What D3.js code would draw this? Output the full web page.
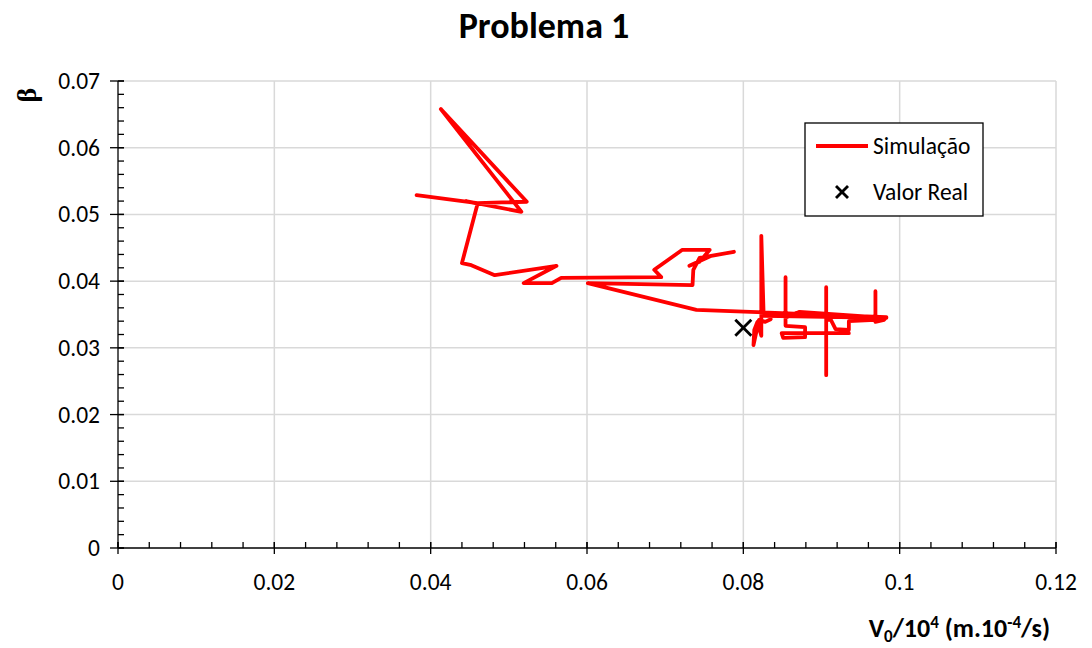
<!DOCTYPE html>
<html>
<head>
<meta charset="utf-8">
<script src="https://cdn.jsdelivr.net/npm/d3@7/dist/d3.min.js"></script>
<style>
  body { margin: 0; background: #fff; }
  svg { display: block; font-family: Carlito, Calibri, "Open Sans", "Liberation Sans", sans-serif; }
</style>
</head>
<body>
<svg id="chart" width="1092" height="648"></svg>
<script>
// Simulated trajectory of (V0/10^4, beta)
const simV0 = [
  0.0382, 0.0460, 0.0523, 0.0413, 0.0516, 0.0445, 0.0460, 0.0440, 0.0452, 0.0482,
  0.0561, 0.0519, 0.0555, 0.0567, 0.0695, 0.0686, 0.0722, 0.0757, 0.0744, 0.0731,
  0.0759, 0.0788, 0.0744, 0.0736, 0.0735, 0.0601, 0.0740, 0.0983, 0.0980, 0.0969,
  0.0969, 0.0969, 0.0935, 0.0935, 0.0918, 0.0912, 0.0906, 0.0906, 0.0906, 0.0906,
  0.0935, 0.0849, 0.0851, 0.0879, 0.0879, 0.0854, 0.0854, 0.0854, 0.0872, 0.0983,
  0.0826, 0.0823, 0.0823, 0.0818, 0.0814, 0.0813, 0.0820, 0.0828, 0.0835
];
const simBeta = [
  0.0529, 0.0517, 0.0519, 0.0658, 0.0504, 0.0520, 0.0516, 0.0427, 0.0424, 0.0409,
  0.0423, 0.0397, 0.0397, 0.0405, 0.0406, 0.0417, 0.0447, 0.0447, 0.0429, 0.0423,
  0.0438, 0.0444, 0.0435, 0.0417, 0.0394, 0.0397, 0.0357, 0.0346, 0.0342, 0.0339,
  0.0385, 0.0342, 0.0340, 0.0327, 0.0328, 0.0342, 0.0342, 0.0391, 0.0259, 0.0322,
  0.0322, 0.0322, 0.0315, 0.0316, 0.0331, 0.0333, 0.0406, 0.0345, 0.0354, 0.0345,
  0.0348, 0.0468, 0.0318, 0.0339, 0.0327, 0.0304, 0.0342, 0.0339, 0.0343
];
// Real value
const realV0 = [0.08];
const realBeta = [0.033];

const xTicks = [0, 0.02, 0.04, 0.06, 0.08, 0.1, 0.12];
const yTicks = [0, 0.01, 0.02, 0.03, 0.04, 0.05, 0.06, 0.07];
const seriesNames = ["Simulação", "Valor Real"];

const svg = d3.select("#chart");
const plotL = 118, plotR = 1056, plotT = 81, plotB = 548;

const x = d3.scaleLinear().domain([0, 0.12]).range([plotL, plotR]);
const y = d3.scaleLinear().domain([0, 0.07]).range([plotB, plotT]);

// grid
const grid = svg.append("g");
grid.selectAll(".vg").data(xTicks.slice(1)).enter().append("line")
  .attr("x1", d => x(d)).attr("x2", d => x(d))
  .attr("y1", plotT).attr("y2", plotB)
  .attr("stroke", "#d9d9d9").attr("stroke-width", 1.5);
grid.selectAll(".hg").data(yTicks.slice(1)).enter().append("line")
  .attr("x1", plotL).attr("x2", plotR)
  .attr("y1", d => y(d)).attr("y2", d => y(d))
  .attr("stroke", "#d9d9d9").attr("stroke-width", 1.5);

// minor ticks (inside)
const xMinor = d3.range(0, 0.12 + 1e-9, 0.004);
const yMinor = d3.range(0, 0.07 + 1e-9, 0.002);
const ax = svg.append("g").attr("stroke", "#000").attr("stroke-width", 1.3);
ax.selectAll(".xm").data(xMinor).enter().append("line")
  .attr("x1", d => x(d)).attr("x2", d => x(d))
  .attr("y1", plotB).attr("y2", plotB - 6);
ax.selectAll(".ym").data(yMinor).enter().append("line")
  .attr("x1", plotL).attr("x2", plotL + 6)
  .attr("y1", d => y(d)).attr("y2", d => y(d));
// major ticks (cross)
ax.selectAll(".xM").data(xTicks).enter().append("line")
  .attr("x1", d => x(d)).attr("x2", d => x(d))
  .attr("y1", plotB - 6).attr("y2", plotB + 6);
ax.selectAll(".yM").data(yTicks).enter().append("line")
  .attr("x1", plotL - 8).attr("x2", plotL + 6)
  .attr("y1", d => y(d)).attr("y2", d => y(d));
// axis lines
ax.append("line").attr("x1", plotL).attr("x2", plotR).attr("y1", plotB).attr("y2", plotB);
ax.append("line").attr("x1", plotL).attr("x2", plotL).attr("y1", plotT).attr("y2", plotB);

// tick labels
const fmt = d => d === 0 ? "0" : String(+d.toFixed(3));
svg.append("g").selectAll("text").data(xTicks).enter().append("text")
  .attr("x", d => x(d)).attr("y", plotB + 42)
  .attr("text-anchor", "middle").attr("font-size", 23.5).attr("fill", "#000")
  .text(fmt);
svg.append("g").selectAll("text").data(yTicks).enter().append("text")
  .attr("x", plotL - 18).attr("y", d => y(d) + 8)
  .attr("text-anchor", "end").attr("font-size", 23.5).attr("fill", "#000")
  .text(fmt);

// title
svg.append("text").attr("x", 544).attr("y", 38).attr("text-anchor", "middle")
  .attr("font-size", 36).attr("font-weight", "bold").text("Problema 1");

// axis titles
svg.append("text").attr("transform", "translate(36,95) rotate(-90)")
  .attr("text-anchor", "middle").attr("font-size", 28).attr("font-weight", "bold")
  .attr("font-family", "'Liberation Serif', 'DejaVu Serif', serif").text("β");
const xt = svg.append("text").attr("x", 1050).attr("y", 637).attr("text-anchor", "end")
  .attr("font-size", 26).attr("font-weight", "bold");
xt.append("tspan").text("V");
xt.append("tspan").attr("font-size", 17).attr("dy", 5).text("0");
xt.append("tspan").attr("dy", -5).text("/10");
xt.append("tspan").attr("font-size", 17).attr("dy", -9).text("4");
xt.append("tspan").attr("dy", 9).text(" (m.10");
xt.append("tspan").attr("font-size", 17).attr("dy", -9).text("-4");
xt.append("tspan").attr("dy", 9).text("/s)");

// simulation line
const pts = simV0.map((v, i) => [v, simBeta[i]]);
svg.append("path").datum(pts)
  .attr("fill", "none").attr("stroke", "#ff0000").attr("stroke-width", 3.8)
  .attr("stroke-linejoin", "round").attr("stroke-linecap", "round")
  .attr("d", d3.line().x(d => x(d[0])).y(d => y(d[1])));

// real value marker
const cross = (g, cx, cy, r, w) => {
  g.append("line").attr("x1", cx - r).attr("x2", cx + r).attr("y1", cy - r).attr("y2", cy + r)
    .attr("stroke", "#000").attr("stroke-width", w);
  g.append("line").attr("x1", cx - r).attr("x2", cx + r).attr("y1", cy + r).attr("y2", cy - r)
    .attr("stroke", "#000").attr("stroke-width", w);
};
const mk = svg.append("g");
realV0.forEach((v, i) => cross(mk, x(v), y(realBeta[i]), 8, 2.8));

// legend
const lg = svg.append("g");
lg.append("rect").attr("x", 805).attr("y", 123).attr("width", 178).attr("height", 93)
  .attr("fill", "#fff").attr("stroke", "#000").attr("stroke-width", 1.3);
lg.append("line").attr("x1", 816).attr("x2", 868).attr("y1", 146).attr("y2", 146)
  .attr("stroke", "#ff0000").attr("stroke-width", 3.8);
lg.append("text").attr("x", 873).attr("y", 154).attr("font-size", 23.5).text(seriesNames[0]);
cross(lg, 842, 192, 6, 2.8);
lg.append("text").attr("x", 873).attr("y", 200).attr("font-size", 23.5).text(seriesNames[1]);
</script>
</body>
</html>
